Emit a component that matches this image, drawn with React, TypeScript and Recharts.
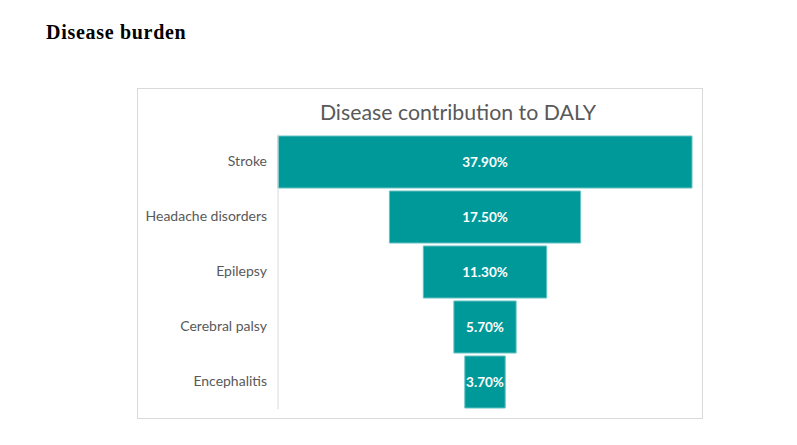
import { BarChart, Bar, XAxis, YAxis, LabelList } from "recharts";

const categories = ["Stroke", "Headache disorders", "Epilepsy", "Cerebral palsy", "Encephalitis"];
const shares = [37.9, 17.5, 11.3, 5.7, 3.7];

const maxShare = Math.max(...shares);
const rows = categories.map((name, i) => ({
  name,
  pad: (maxShare - shares[i]) / 2,
  value: shares[i],
}));

const font = "Lato, 'Open Sans', sans-serif";

export default function App() {
  return (
    <div style={{ position: "absolute", left: 0, top: 0, width: 797, height: 445, background: "#fff" }}>
      <div
        style={{
          position: "absolute",
          left: 46,
          top: 21,
          fontFamily: "'Liberation Serif', serif",
          fontWeight: 700,
          fontSize: 20,
          letterSpacing: 0.7,
          color: "#000",
          whiteSpace: "nowrap",
        }}
      >
        Disease burden
      </div>
      <div
        style={{
          position: "absolute",
          left: 137,
          top: 88,
          width: 564,
          height: 329,
          border: "1px solid #d9d9d9",
        }}
      >
        <div
          style={{
            position: "absolute",
            left: 0,
            width: 640,
            top: 10,
            textAlign: "center",
            fontFamily: font,
            fontSize: 21.3,
            color: "#595959",
            whiteSpace: "nowrap",
          }}
        >
          Disease contribution to DALY
        </div>
        <div style={{ position: "absolute", left: 0, top: 0 }}>
          <BarChart
            width={564}
            height={329}
            data={rows}
            layout="vertical"
            margin={{ top: 45, right: 10, bottom: 9, left: 0 }}
            barSize={52}
          >
            <XAxis type="number" hide domain={[0, maxShare]} />
            <YAxis
              type="category"
              dataKey="name"
              width={140}
              tickLine={false}
              tickSize={0}
              tickMargin={11}
              axisLine={{ stroke: "#d9d9d9" }}
              tick={{ fill: "#595959", fontSize: 14, fontFamily: font }}
            />
            <Bar dataKey="pad" stackId="f" fill="transparent" isAnimationActive={false} />
            <Bar dataKey="value" stackId="f" fill="#009999" stroke="#66c2c2" strokeWidth={1} isAnimationActive={false}>
              <LabelList
                dataKey="value"
                position="center"
                formatter={(v: number) => v.toFixed(2) + "%"}
                style={{ fill: "#ffffff", fontSize: 13.5, fontWeight: 700, fontFamily: font }}
              />
            </Bar>
          </BarChart>
        </div>
      </div>
    </div>
  );
}
